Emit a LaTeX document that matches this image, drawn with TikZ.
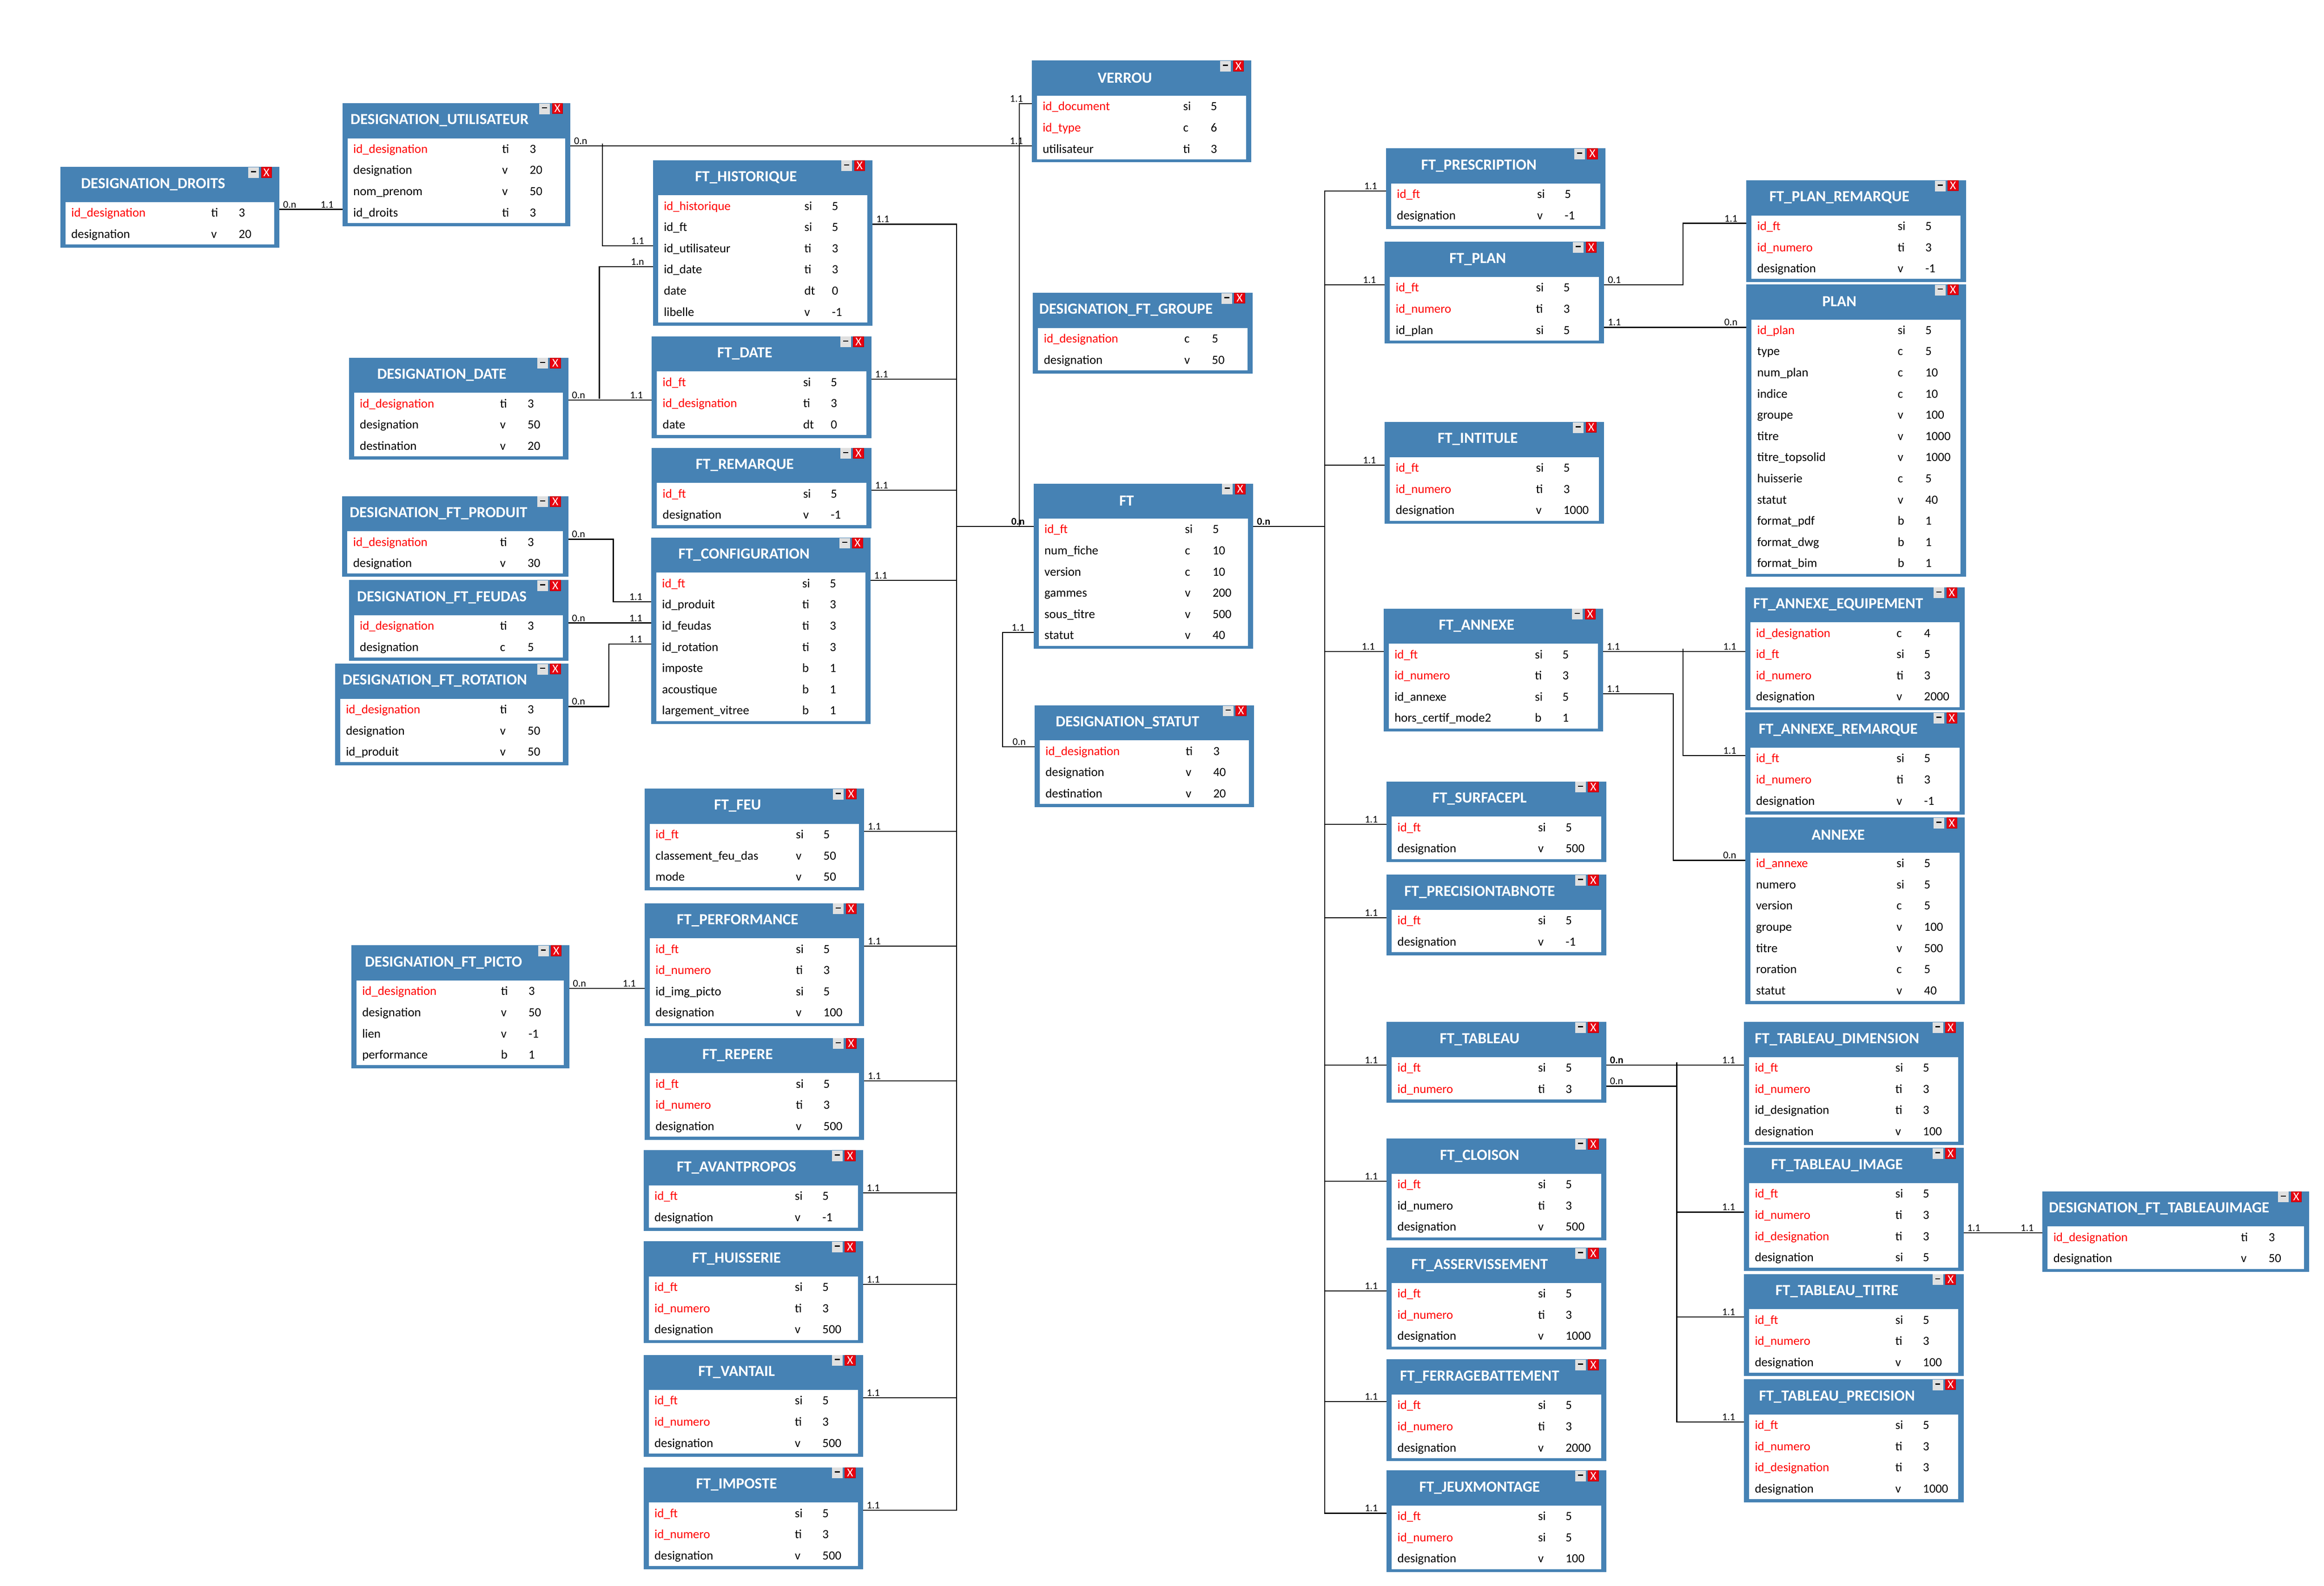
\documentclass[tikz,border=0pt]{standalone}
\usepackage{fontspec}
\setmainfont{Carlito}
\usetikzlibrary{positioning}
\definecolor{tablehead}{RGB}{70,130,180}
\definecolor{btngray}{RGB}{224,224,224}
\definecolor{btnred}{RGB}{232,0,16}

% name, left, top, right, number of rows, title, rows
\newcommand{\dbtable}[7]{
    \pgfmathsetmacro{\tw}{#4-#2}
    \pgfmathsetmacro{\th}{25.8+14.3*#5}
    \node[tableframe, minimum width=\tw pt, minimum height=\th pt] (#1) at (#2,#3) {};
    \node[tablebody, minimum width=\tw pt-7.0pt, minimum height=14.3pt*#5, below=23.7pt of #1.north] (#1-body) {};
    \pgfmathsetmacro{\tcx}{(#2+#4)/2-11.3}
    \node[tabletitle] (#1-title) at (\tcx,#3+11.7) {#6};
    \node[btnmin, anchor=north east] (#1-min) at (#4-13.6,#3) {\rule[1.2pt]{3.4pt}{0.8pt}};
    \node[btnclose, anchor=north east] (#1-close) at (#4-5.1,#3) {X};
    \foreach \fname/\ftype/\fsize/\fcol [count=\i] in {#7} {
        \pgfmathsetmacro{\fy}{#3+33.7+14.3*(\i-1)}
        \node[fieldtext, text=\fcol] (#1-n\i) at (#2+7.2,\fy) {\fname};
        \node[fieldtext] (#1-t\i) at (#4-46.2,\fy) {\ftype};
        \node[fieldtext] (#1-s\i) at (#4-27.6,\fy) {\fsize};
    }
}

\begin{document}
\begin{tikzpicture}[
x=1pt,y=-1pt,
tableframe/.style={fill=tablehead,anchor=north west,inner sep=0pt,outer sep=0pt},
tablebody/.style={fill=white,inner sep=0pt,outer sep=0pt},
tabletitle/.style={text=white,font=\bfseries\fontsize{10.4}{12}\selectfont,inner sep=0pt},
fieldtext/.style={anchor=base west,font=\fontsize{8.4}{10}\selectfont,inner sep=0pt},
btnmin/.style={fill=btngray,minimum width=7.2pt,minimum height=7.2pt,inner sep=0pt,font=\fontsize{5}{5}\selectfont},
btnclose/.style={fill=btnred,draw=btnred!75!black,line width=0.25pt,text=white,minimum width=7pt,minimum height=7pt,inner sep=0pt,font=\fontsize{8}{8}\selectfont},
link/.style={line width=0.7pt},
cardl/.style={anchor=base west,xshift=2.2pt,yshift=1.1pt,inner sep=0pt,font=\fontsize{6.9}{7}\selectfont},
cardr/.style={anchor=base east,xshift=-5.6pt,yshift=1.1pt,inner sep=0pt,font=\fontsize{6.9}{7}\selectfont},
boldl/.style={cardl,font=\bfseries\fontsize{6.9}{7}\selectfont},
boldr/.style={cardr,font=\bfseries\fontsize{6.9}{7}\selectfont}
]
    \useasboundingbox (0,0) rectangle (1568,1070.2);

    % Left tables
    \dbtable{droits}{40.7}{112.7}{188.5}{2}{DESIGNATION\_DROITS}{id\_designation/ti/3/red,designation/v/20/black}
    \dbtable{util}{231}{69.6}{384.8}{4}{DESIGNATION\_UTILISATEUR}{id\_designation/ti/3/red,designation/v/20/black,nom\_prenom/v/50/black,id\_droits/ti/3/black}
    \dbtable{dedate}{235.4}{241.4}{383.4}{3}{DESIGNATION\_DATE}{id\_designation/ti/3/red,designation/v/50/black,destination/v/20/black}
    \dbtable{produit}{230.9}{334.8}{383.4}{2}{DESIGNATION\_FT\_PRODUIT}{id\_designation/ti/3/red,designation/v/30/black}
    \dbtable{feudas}{235.4}{391.5}{383.4}{2}{DESIGNATION\_FT\_FEUDAS}{id\_designation/ti/3/red,designation/c/5/black}
    \dbtable{rotation}{226}{447.8}{383.4}{3}{DESIGNATION\_FT\_ROTATION}{id\_designation/ti/3/red,designation/v/50/black,id\_produit/v/50/black}
    \dbtable{picto}{237}{638}{384}{4}{DESIGNATION\_FT\_PICTO}{id\_designation/ti/3/red,designation/v/50/black,lien/v/-1/black,performance/b/1/black}

    % Tables linked to the left bus
    \dbtable{histo}{440.5}{108.1}{588.7}{6}{FT\_HISTORIQUE}{id\_historique/si/5/red,id\_ft/si/5/black,id\_utilisateur/ti/3/black,id\_date/ti/3/black,date/dt/0/black,libelle/v/-1/black}
    \dbtable{ftdate}{439.7}{227}{587.9}{3}{FT\_DATE}{id\_ft/si/5/red,id\_designation/ti/3/red,date/dt/0/black}
    \dbtable{remarque}{439.7}{302.2}{587.9}{2}{FT\_REMARQUE}{id\_ft/si/5/red,designation/v/-1/black}
    \dbtable{config}{439.3}{362.8}{587.3}{7}{FT\_CONFIGURATION}{id\_ft/si/5/red,id\_produit/ti/3/black,id\_feudas/ti/3/black,id\_rotation/ti/3/black,imposte/b/1/black,acoustique/b/1/black,largement\_vitree/b/1/black}
    \dbtable{feu}{434.9}{532.2}{583}{3}{FT\_FEU}{id\_ft/si/5/red,classement\_feu\_das/v/50/black,mode/v/50/black}
    \dbtable{perf}{434.9}{609.5}{583}{4}{FT\_PERFORMANCE}{id\_ft/si/5/red,id\_numero/ti/3/red,id\_img\_picto/si/5/black,designation/v/100/black}
    \dbtable{repere}{434.9}{700.5}{583}{3}{FT\_REPERE}{id\_ft/si/5/red,id\_numero/ti/3/red,designation/v/500/black}
    \dbtable{avant}{434.2}{776.3}{582.3}{2}{FT\_AVANTPROPOS}{id\_ft/si/5/red,designation/v/-1/black}
    \dbtable{huiss}{434.2}{837.7}{582.3}{3}{FT\_HUISSERIE}{id\_ft/si/5/red,id\_numero/ti/3/red,designation/v/500/black}
    \dbtable{vantail}{434.2}{914.3}{582.3}{3}{FT\_VANTAIL}{id\_ft/si/5/red,id\_numero/ti/3/red,designation/v/500/black}
    \dbtable{imposte}{434.2}{990.2}{582.3}{3}{FT\_IMPOSTE}{id\_ft/si/5/red,id\_numero/ti/3/red,designation/v/500/black}

    % Centre tables
    \dbtable{verrou}{696.1}{40.9}{844.3}{3}{VERROU}{id\_document/si/5/red,id\_type/c/6/red,utilisateur/ti/3/black}
    \dbtable{groupe}{696.9}{197.6}{845.1}{2}{DESIGNATION\_FT\_GROUPE}{id\_designation/c/5/red,designation/v/50/black}
    \dbtable{ft}{697.3}{326.3}{845.5}{6}{FT}{id\_ft/si/5/red,num\_fiche/c/10/black,version/c/10/black,gammes/v/200/black,sous\_titre/v/500/black,statut/v/40/black}
    \dbtable{statut}{698}{476}{846}{3}{DESIGNATION\_STATUT}{id\_designation/ti/3/red,designation/v/40/black,destination/v/20/black}

    % Tables linked to the right bus
    \dbtable{prescr}{935.1}{100.1}{1083.1}{2}{FT\_PRESCRIPTION}{id\_ft/si/5/red,designation/v/-1/black}
    \dbtable{plan}{934.3}{163.2}{1082.3}{3}{FT\_PLAN}{id\_ft/si/5/red,id\_numero/ti/3/red,id\_plan/si/5/black}
    \dbtable{intitule}{934.3}{284.8}{1082.3}{3}{FT\_INTITULE}{id\_ft/si/5/red,id\_numero/ti/3/red,designation/v/1000/black}
    \dbtable{annexe}{933.5}{410.7}{1081.6}{4}{FT\_ANNEXE}{id\_ft/si/5/red,id\_numero/ti/3/red,id\_annexe/si/5/black,hors\_certif\_mode2/b/1/black}
    \dbtable{surface}{935.5}{527.4}{1083.7}{2}{FT\_SURFACEPL}{id\_ft/si/5/red,designation/v/500/black}
    \dbtable{precis}{935.5}{590.3}{1083.7}{2}{FT\_PRECISIONTABNOTE}{id\_ft/si/5/red,designation/v/-1/black}
    \dbtable{tableau}{935.5}{689.7}{1083.7}{2}{FT\_TABLEAU}{id\_ft/si/5/red,id\_numero/ti/3/red}
    \dbtable{cloison}{935.5}{768.4}{1083.7}{3}{FT\_CLOISON}{id\_ft/si/5/red,id\_numero/ti/3/black,designation/v/500/black}
    \dbtable{asserv}{935.5}{842.1}{1083.7}{3}{FT\_ASSERVISSEMENT}{id\_ft/si/5/red,id\_numero/ti/3/red,designation/v/1000/black}
    \dbtable{ferrage}{935.5}{917.4}{1083.7}{3}{FT\_FERRAGEBATTEMENT}{id\_ft/si/5/red,id\_numero/ti/3/red,designation/v/2000/black}
    \dbtable{jeux}{935.5}{992.3}{1083.7}{3}{FT\_JEUXMONTAGE}{id\_ft/si/5/red,id\_numero/si/5/red,designation/v/100/black}

    % Far right tables
    \dbtable{planrem}{1178.2}{121.7}{1326.4}{3}{FT\_PLAN\_REMARQUE}{id\_ft/si/5/red,id\_numero/ti/3/red,designation/v/-1/black}
    \dbtable{planx}{1178.2}{191.9}{1326.4}{12}{PLAN}{id\_plan/si/5/red,type/c/5/black,num\_plan/c/10/black,indice/c/10/black,groupe/v/100/black,titre/v/1000/black,titre\_topsolid/v/1000/black,huisserie/c/5/black,statut/v/40/black,format\_pdf/b/1/black,format\_dwg/b/1/black,format\_bim/b/1/black}
    \dbtable{anxequip}{1177.4}{396.3}{1325.6}{4}{FT\_ANNEXE\_EQUIPEMENT}{id\_designation/c/4/red,id\_ft/si/5/red,id\_numero/ti/3/red,designation/v/2000/black}
    \dbtable{anxrem}{1177.4}{480.9}{1325.6}{3}{FT\_ANNEXE\_REMARQUE}{id\_ft/si/5/red,id\_numero/ti/3/red,designation/v/-1/black}
    \dbtable{anxe}{1177.4}{551.7}{1325.6}{7}{ANNEXE}{id\_annexe/si/5/red,numero/si/5/black,version/c/5/black,groupe/v/100/black,titre/v/500/black,roration/c/5/black,statut/v/40/black}
    \dbtable{dimens}{1176.6}{689.7}{1324.8}{4}{FT\_TABLEAU\_DIMENSION}{id\_ft/si/5/red,id\_numero/ti/3/red,id\_designation/ti/3/black,designation/v/100/black}
    \dbtable{image}{1176.6}{774.7}{1324.8}{4}{FT\_TABLEAU\_IMAGE}{id\_ft/si/5/red,id\_numero/ti/3/red,id\_designation/ti/3/red,designation/si/5/black}
    \dbtable{titre}{1176.6}{859.8}{1324.8}{3}{FT\_TABLEAU\_TITRE}{id\_ft/si/5/red,id\_numero/ti/3/red,designation/v/100/black}
    \dbtable{precision}{1176.6}{930.8}{1324.8}{4}{FT\_TABLEAU\_PRECISION}{id\_ft/si/5/red,id\_numero/ti/3/red,id\_designation/ti/3/red,designation/v/1000/black}
    \dbtable{tabimg}{1378}{804}{1558}{2}{DESIGNATION\_FT\_TABLEAUIMAGE}{id\_designation/ti/3/red,designation/v/50/black}

    % Junctions
    \coordinate (busleft) at (645.5,355.3);
    \coordinate (busright) at (893.7,355.3);
    \coordinate (busverrou) at (687.8,355.3);
    \coordinate (junutil) at (406.4,96.8);
    \coordinate (jundate) at (404.4,269);
    \coordinate (junannexe) at (1135.6,437.9);
    \coordinate (juntableau) at (1131.3,717);

    % Left links
    \draw[link] (droits.east |- 0,141.3) node[cardl] (c1) {0.n} -- (util.west |- 0,141.3) node[cardr] (c2) {1.1};
    \draw[link] (util.east |- 0,98.5) node[cardl] (c3) {0.n} -- (verrou.west |- 0,98.5) node[cardr] (c4) {1.1};
    \draw[link] (junutil) |- (histo.west |- 0,165.8) node[cardr] (c5) {1.1};
    \draw[link] (dedate.east |- 0,270.1) node[cardl] (c6) {0.n} -- (ftdate.west |- 0,270.1) node[cardr] (c7) {1.1};
    \draw[link] (jundate) |- (histo.west |- 0,179.9) node[cardr] (c8) {1.n};
    \draw[link] (produit.east |- 0,363.9) node[cardl] (c9) {0.n} -| (413.8,406) -- (config.west |- 0,406) node[cardr] (c10) {1.1};
    \draw[link] (feudas.east |- 0,420.4) node[cardl] (c11) {0.n} -- (config.west |- 0,420.4) node[cardr] (c12) {1.1};
    \draw[link] (rotation.east |- 0,476.8) node[cardl] (c13) {0.n} -| (410.9,434.7) -- (config.west |- 0,434.7) node[cardr] (c14) {1.1};
    \draw[link] (picto.east |- 0,667.1) node[cardl] (c15) {0.n} -- (perf.west |- 0,667.1) node[cardr] (c16) {1.1};

    % Left bus
    \draw[link] (ft.west |- 0,355.3) node[boldr] (c17) {0.n} -- (busleft);
    \draw[link] (verrou.west |- 0,69.9) node[cardr] (c18) {1.1} -| (busverrou);
    \draw[link] (histo.east |- 0,151.3) node[cardl] (c19) {1.1} -| (busleft);
    \draw[link] (ftdate.east |- 0,255.8) node[cardl] (c20) {1.1} -| (busleft);
    \draw[link] (remarque.east |- 0,330.9) node[cardl] (c21) {1.1} -| (busleft);
    \draw[link] (config.east |- 0,391.8) node[cardl] (c22) {1.1} -| (busleft);
    \draw[link] (feu.east |- 0,561.1) node[cardl] (c23) {1.1} -| (busleft);
    \draw[link] (perf.east |- 0,638.6) node[cardl] (c24) {1.1} -| (busleft);
    \draw[link] (repere.east |- 0,729.5) node[cardl] (c25) {1.1} -| (busleft);
    \draw[link] (avant.east |- 0,805) node[cardl] (c26) {1.1} -| (busleft);
    \draw[link] (huiss.east |- 0,866.8) node[cardl] (c27) {1.1} -| (busleft);
    \draw[link] (vantail.east |- 0,943.2) node[cardl] (c28) {1.1} -| (busleft);
    \draw[link] (imposte.east |- 0,1019.1) node[cardl] (c29) {1.1} -| (busleft);

    % Statut
    \draw[link] (statut.west |- 0,504) node[cardr] (c30) {0.n} -| (676.5,426.8) -- (ft.west |- 0,426.8) node[cardr] (c31) {1.1};

    % Right bus
    \draw[link] (ft.east |- 0,355.3) node[boldl] (c32) {0.n} -- (busright);
    \draw[link] (prescr.west |- 0,128.9) node[cardr] (c33) {1.1} -| (busright);
    \draw[link] (plan.west |- 0,192.2) node[cardr] (c34) {1.1} -| (busright);
    \draw[link] (intitule.west |- 0,313.8) node[cardr] (c35) {1.1} -| (busright);
    \draw[link] (annexe.west |- 0,439.7) node[cardr] (c36) {1.1} -| (busright);
    \draw[link] (surface.west |- 0,556.4) node[cardr] (c37) {1.1} -| (busright);
    \draw[link] (precis.west |- 0,619.3) node[cardr] (c38) {1.1} -| (busright);
    \draw[link] (tableau.west |- 0,718.7) node[cardr] (c39) {1.1} -| (busright);
    \draw[link] (cloison.west |- 0,797.1) node[cardr] (c40) {1.1} -| (busright);
    \draw[link] (asserv.west |- 0,871.1) node[cardr] (c41) {1.1} -| (busright);
    \draw[link] (ferrage.west |- 0,945.9) node[cardr] (c42) {1.1} -| (busright);
    \draw[link] (jeux.west |- 0,1021.2) node[cardr] (c43) {1.1} -| (busright);

    % Right links
    \draw[link] (plan.east |- 0,192.2) node[cardl] (c44) {0.1} -| (1135.6,150.7) -- (planrem.west |- 0,150.7) node[cardr] (c45) {1.1};
    \draw[link] (plan.east |- 0,220.9) node[cardl] (c46) {1.1} -- (planx.west |- 0,220.9) node[cardr] (c47) {0.n};
    \draw[link] (annexe.east |- 0,439.7) node[cardl] (c48) {1.1} -- (anxequip.west |- 0,439.7) node[cardr] (c49) {1.1};
    \draw[link] (junannexe) |- (anxrem.west |- 0,509.9) node[cardr] (c50) {1.1};
    \draw[link] (annexe.east |- 0,468.3) node[cardl] (c51) {1.1} -| (1129,580.6) -- (anxe.west |- 0,580.6) node[cardr] (c52) {0.n};
    \draw[link] (tableau.east |- 0,718.7) node[boldl] (c53) {0.n} -- (dimens.west |- 0,718.7) node[cardr] (c54) {1.1};
    \draw[link] (tableau.east |- 0,733) node[cardl] (c55) {0.n} -- (juntableau |- 0,733);
    \draw[link] (juntableau) |- (image.west |- 0,818) node[cardr] (c56) {1.1};
    \draw[link] (juntableau) |- (titre.west |- 0,888.8) node[cardr] (c57) {1.1};
    \draw[link] (juntableau) |- (precision.west |- 0,959.7) node[cardr] (c58) {1.1};
    \draw[link] (image.east |- 0,832) node[cardl] (c59) {1.1} -- (tabimg.west |- 0,832) node[cardr] (c60) {1.1};

\end{tikzpicture}
\end{document}
